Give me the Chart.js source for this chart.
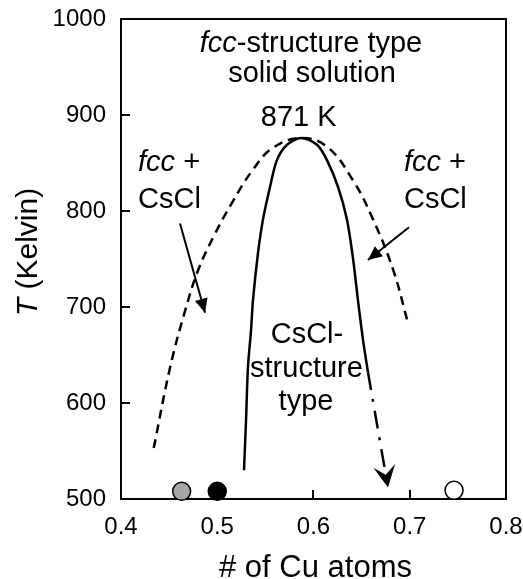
<!DOCTYPE html>
<html>
<head>
<meta charset="utf-8">
<script src="https://cdn.jsdelivr.net/npm/chart.js@4"></script>
<style>
  html, body { margin: 0; padding: 0; background: #fff; }
  canvas { display: block; }
</style>
</head>
<body>
<canvas id="c" width="523" height="579"></canvas>
<script>
// ---- data ----
const xTickValues = [0.4, 0.5, 0.6, 0.7, 0.8];
const yTickValues = [500, 600, 700, 800, 900, 1000];

// dashed boundary (fcc / fcc+CsCl)
const dashedX = [0.434, 0.451, 0.466, 0.480, 0.497, 0.515, 0.537, 0.558, 0.587, 0.614, 0.641, 0.662, 0.683, 0.698];
const dashedT = [553, 637, 694, 738, 775, 808, 843, 866, 876, 867, 832, 791, 738, 684];

// solid boundary (CsCl-structure type)
const solidX = [0.5278, 0.5299, 0.5319, 0.5351, 0.5371, 0.5423, 0.5475, 0.5548, 0.562, 0.5725, 0.587,
                0.6036, 0.614, 0.6255, 0.6348, 0.641, 0.6462, 0.6514, 0.6566];
const solidT = [530, 582, 637, 676, 707, 756, 791, 825, 853, 869, 876,
                869, 853, 825, 791, 751, 707, 666, 632];

// dash-dot continuation with arrow
const dashDotX = [0.6566, 0.6774];
const dashDotT = [632, 512];

// label arrows
const leftArrowX = [0.4613, 0.4873];
const leftArrowT = [787, 694];
const rightArrowX = [0.6992, 0.6566];
const rightArrowT = [783, 749];

// sample points
const sampleX = [0.463, 0.500, 0.746];
const sampleT = [508, 508, 509];

const pts = (xs, ys) => xs.map((x, i) => ({ x: x, y: ys[i] }));

const FONT = "'Liberation Sans', Arial, Helvetica, sans-serif";

// ---- plugins ----
const framePlugin = {
  id: 'frame',
  beforeDatasetsDraw(chart) {
    const { ctx, chartArea: a, scales } = chart;
    ctx.save();
    ctx.strokeStyle = '#000';
    ctx.lineWidth = 2;
    ctx.strokeRect(a.left, a.top, a.right - a.left, a.bottom - a.top);
    const len = 9;
    ctx.beginPath();
    yTickValues.slice(1, -1).forEach(v => {
      const y = Math.round(scales.y.getPixelForValue(v));
      ctx.moveTo(a.left, y); ctx.lineTo(a.left + len, y);
    });
    xTickValues.slice(1, -1).forEach(v => {
      const x = Math.round(scales.x.getPixelForValue(v));
      ctx.moveTo(x, a.bottom); ctx.lineTo(x, a.bottom - len);
    });
    ctx.stroke();
    ctx.restore();
  }
};

const arrowPlugin = {
  id: 'arrows',
  afterDatasetsDraw(chart) {
    const ctx = chart.ctx;
    chart.data.datasets.forEach((ds, i) => {
      if (!ds.arrow) return;
      const meta = chart.getDatasetMeta(i);
      const n = meta.data.length;
      const p1 = meta.data[n - 2], p2 = meta.data[n - 1];
      const ang = Math.atan2(p2.y - p1.y, p2.x - p1.x);
      ctx.save();
      ctx.translate(p2.x, p2.y);
      ctx.rotate(ang);
      ctx.fillStyle = '#000';
      ctx.beginPath();
      if (ds.arrow === 'stealth') {
        ctx.moveTo(0, 0);
        ctx.lineTo(-22, -11);
        ctx.lineTo(-13, 0);
        ctx.lineTo(-22, 11);
      } else {
        ctx.moveTo(0, 0);
        ctx.lineTo(-14, -6.5);
        ctx.lineTo(-14, 6.5);
      }
      ctx.closePath();
      ctx.fill();
      ctx.restore();
    });
  }
};

function drawParts(ctx, parts, x, y, size, align) {
  const widths = parts.map(p => {
    ctx.font = (p.italic ? 'italic ' : '') + size + 'px ' + FONT;
    return ctx.measureText(p.t).width;
  });
  const total = widths.reduce((a, b) => a + b, 0);
  let cx = align === 'center' ? x - total / 2 : x;
  parts.forEach((p, i) => {
    ctx.font = (p.italic ? 'italic ' : '') + size + 'px ' + FONT;
    ctx.fillText(p.t, cx, y);
    cx += widths[i];
  });
}

const textPlugin = {
  id: 'texts',
  afterDraw(chart) {
    const { ctx, scales } = chart;
    const X = v => scales.x.getPixelForValue(v);
    const Y = v => scales.y.getPixelForValue(v);
    ctx.save();
    ctx.fillStyle = '#000';
    ctx.textBaseline = 'alphabetic';
    ctx.textAlign = 'left';
    const S = 29;
    const notes = [
      { parts: [{ t: 'fcc', italic: true }, { t: '-structure type' }], x: 0.5974, y: 965.6, align: 'center' },
      { parts: [{ t: 'solid solution' }], x: 0.5984, y: 934.4, align: 'center' },
      { parts: [{ t: '871 K' }], x: 0.5846, y: 888.5, align: 'center' },
      { parts: [{ t: 'fcc', italic: true }, { t: ' +' }], x: 0.4177, y: 841.7, align: 'left' },
      { parts: [{ t: 'CsCl' }], x: 0.4177, y: 803, align: 'left' },
      { parts: [{ t: 'fcc', italic: true }, { t: ' +' }], x: 0.694, y: 841.7, align: 'left' },
      { parts: [{ t: 'CsCl' }], x: 0.694, y: 803, align: 'left' },
      { parts: [{ t: 'CsCl-' }], x: 0.5932, y: 662.5, align: 'center' },
      { parts: [{ t: 'structure' }], x: 0.5927, y: 627, align: 'center' },
      { parts: [{ t: 'type' }], x: 0.5922, y: 592.7, align: 'center' }
    ];
    notes.forEach(n => drawParts(ctx, n.parts, X(n.x), Y(n.y), S, n.align));

    const xa = chart.chartArea;
    drawParts(ctx, [{ t: '# of Cu atoms' }], (xa.left + xa.right) / 2 + 2, 577, 31, 'center');
    ctx.save();
    ctx.translate(37, (xa.top + xa.bottom) / 2 - 7);
    ctx.rotate(-Math.PI / 2);
    drawParts(ctx, [{ t: 'T', italic: true }, { t: ' (Kelvin)' }], 0, 0, 30, 'center');
    ctx.restore();
    ctx.restore();
  }
};

// ---- chart ----
const lineBase = { showLine: true, pointRadius: 0, fill: false, borderColor: '#000', clip: false };

new Chart(document.getElementById('c'), {
  type: 'scatter',
  data: {
    datasets: [
      Object.assign({}, lineBase, { label: 'fcc boundary', data: pts(dashedX, dashedT), borderWidth: 2.5, borderDash: [9, 6], tension: 0.4 }),
      Object.assign({}, lineBase, { label: 'CsCl boundary', data: pts(solidX, solidT), borderWidth: 2.5, tension: 0.3 }),
      Object.assign({}, lineBase, { label: 'continuation', data: pts(dashDotX, dashDotT), borderWidth: 2.5, borderDash: [18, 9, 3, 9], arrow: 'stealth' }),
      Object.assign({}, lineBase, { label: 'left arrow', data: pts(leftArrowX, leftArrowT), borderWidth: 2, arrow: 'solid' }),
      Object.assign({}, lineBase, { label: 'right arrow', data: pts(rightArrowX, rightArrowT), borderWidth: 2, arrow: 'solid' }),
      {
        label: 'samples',
        data: pts(sampleX, sampleT),
        showLine: false,
        clip: false,
        pointRadius: 9,
        pointBorderWidth: 1.5,
        pointBorderColor: '#000',
        pointBackgroundColor: ['#a6a6a6', '#000000', '#ffffff']
      }
    ]
  },
  options: {
    responsive: false,
    animation: false,
    devicePixelRatio: 1,
    layout: { padding: { top: 19, right: 17, bottom: 0, left: 0 } },
    plugins: { legend: { display: false }, tooltip: { enabled: false } },
    scales: {
      x: {
        type: 'linear',
        min: 0.4, max: 0.8,
        afterFit(s) { s.height = 80; s.paddingLeft = 0; s.paddingRight = 0; },
        afterBuildTicks(s) { s.ticks = xTickValues.map(v => ({ value: v })); },
        grid: { display: false, drawTicks: false },
        border: { display: false },
        ticks: {
          padding: 14,
          color: '#000',
          font: { family: FONT, size: 24 },
          maxRotation: 0,
          callback: v => v.toFixed(1)
        }
      },
      y: {
        type: 'linear',
        min: 500, max: 1000,
        afterFit(s) { s.width = 121; s.paddingTop = 0; s.paddingBottom = 0; },
        afterBuildTicks(s) { s.ticks = yTickValues.map(v => ({ value: v })); },
        grid: { display: false, drawTicks: false },
        border: { display: false },
        ticks: {
          padding: 15,
          color: '#000',
          font: { family: FONT, size: 24 },
          callback: v => String(v)
        }
      }
    }
  },
  plugins: [framePlugin, arrowPlugin, textPlugin]
});
</script>
</body>
</html>
